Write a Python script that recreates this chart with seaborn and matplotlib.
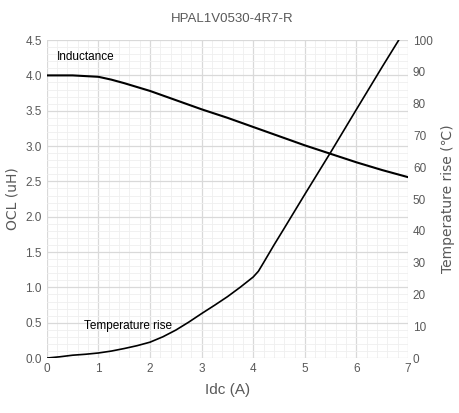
import matplotlib
matplotlib.use("Agg")
import matplotlib.pyplot as plt
from matplotlib.ticker import MultipleLocator
import seaborn as sns
import pandas as pd

# values
idc_ocl = [0, 0.5, 1.0, 1.25, 1.5, 2.0, 2.5, 3.0, 3.5, 4.0, 4.5, 5.0, 5.5, 6.0, 6.5, 7.0]
ocl = [4.0, 4.0, 3.98, 3.94, 3.89, 3.78, 3.65, 3.52, 3.40, 3.27, 3.14, 3.01, 2.89, 2.77, 2.66, 2.56]

idc_temp = [0, 0.25, 0.5, 0.75, 1.0, 1.25, 1.5, 1.75, 2.0, 2.25, 2.5, 2.75, 3.0, 3.25,
            3.5, 3.75, 4.0, 4.1, 4.2, 4.4, 4.6, 5.0, 5.5, 6.0, 6.5, 6.82]
temp_rise = [0, 0.4, 0.9, 1.2, 1.6, 2.2, 3.0, 3.9, 5.0, 6.7, 8.8, 11.3, 14.0, 16.6,
             19.3, 22.3, 25.5, 27.3, 30.0, 35.5, 40.8, 51.5, 64.7, 78.2, 91.6, 100.0]

df_ocl = pd.DataFrame({"Idc": idc_ocl, "OCL": ocl})
df_temp = pd.DataFrame({"Idc": idc_temp, "Temp": temp_rise})

sns.set_style("white")
plt.rcParams['font.family'] = ['Liberation Sans Narrow', 'Liberation Sans', 'DejaVu Sans']

grey = "#595959"
fig = plt.figure(figsize=(4.59, 4.13), dpi=100)
ax = fig.add_axes([0.102, 0.133, 0.787, 0.770])
ax2 = ax.twinx()

sns.lineplot(data=df_ocl, x="Idc", y="OCL", ax=ax, color="black", lw=1.5)
sns.lineplot(data=df_temp, x="Idc", y="Temp", ax=ax2, color="black", lw=1.2)

ax.set_xlim(0, 7)
ax.set_ylim(0, 4.5)
ax2.set_ylim(0, 100)

ax.xaxis.set_major_locator(MultipleLocator(1))
ax.xaxis.set_minor_locator(MultipleLocator(0.2))
ax.yaxis.set_major_locator(MultipleLocator(0.5))
ax.yaxis.set_minor_locator(MultipleLocator(0.1))
ax2.yaxis.set_major_locator(MultipleLocator(10))

ax.grid(which="major", color="#d9d9d9", lw=0.9)
ax.grid(which="minor", color="#efefef", lw=0.6)
ax.set_axisbelow(True)
ax2.grid(False)

for a in (ax, ax2):
    for s in a.spines.values():
        s.set_visible(False)
    a.tick_params(which="both", length=0, colors=grey, labelsize=8.5)

ax.yaxis.set_major_formatter(lambda v, p: f"{v:.1f}")

ax.set_xlabel("Idc (A)", fontsize=11, color=grey, labelpad=6)
ax.set_ylabel("OCL (uH)", fontsize=10, color=grey, family="DejaVu Sans", labelpad=4)
ax2.set_ylabel("Temperature rise (\u2103)", fontsize=10, color=grey, family="DejaVu Sans", labelpad=6)

ax.text(0.2, 4.22, "Inductance", fontsize=8.5, color="black")
ax.text(0.72, 0.41, "Temperature rise", fontsize=8.5, color="black")

fig.text(0.505, 0.955, "HPAL1V0530-4R7-R", ha="center", va="center", fontsize=9.5, color=grey)

fig.savefig("out.png", dpi=100)
